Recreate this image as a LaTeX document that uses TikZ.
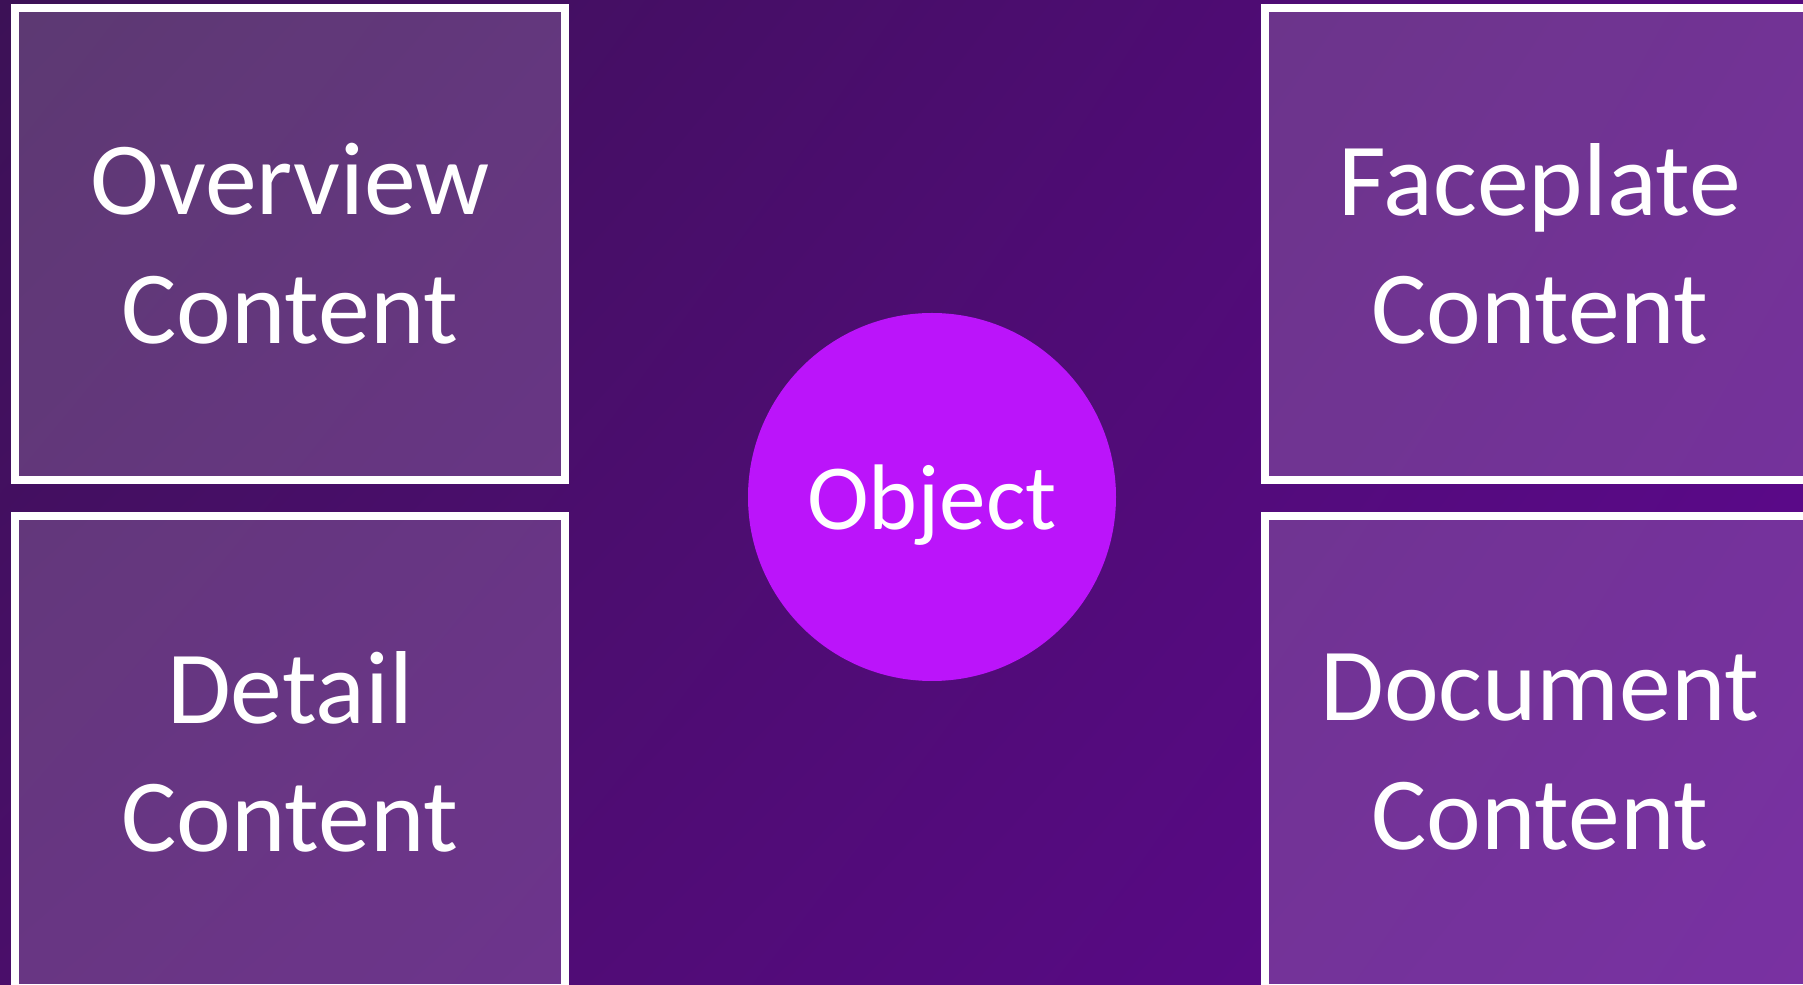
\documentclass[tikz,border=0pt]{standalone}
\usepackage{fontspec}
\setmainfont{Carlito}
\usetikzlibrary{positioning,shadings}
\definecolor{bgul}{RGB}{60,17,86}
\definecolor{bgur}{RGB}{86,10,128}
\definecolor{bgll}{RGB}{74,14,106}
\definecolor{bglr}{RGB}{94,8,144}
\definecolor{objviolet}{RGB}{187,20,250}

\begin{document}
\begin{tikzpicture}[node distance={2.8mm}, box/.style = {draw=white, line width=0.8mm, fill=white, fill opacity=0.17, text opacity=1, text=white, minimum width=55mm, minimum height=47.2mm, align=center, font=\fontsize{29.5}{36.6}\selectfont}, obj/.style = {circle, fill=objviolet, minimum size=36.8mm, text=white, text depth=0pt, font=\fontsize{26.5}{32}\selectfont}]
            \useasboundingbox (0,0) rectangle (18.03,-9.85);
            \clip (0,0) rectangle (18.03,-9.85);
            \shade[upper left=bgul, upper right=bgur, lower left=bgll, lower right=bglr] (0,0) rectangle (18.03,-9.85);

            \node[box] (ov) at (2.90,-2.44) {Overview\\Content};
            \node[box] (det) [below=of ov] {Detail\\Content};
            \node[box] (face) [right=69.2mm of ov] {Faceplate\\Content};
            \node[box] (doc) [below=of face] {Document\\Content};

            \node[obj] (obj) at (9.32,-4.97) {Object};
        \end{tikzpicture}
\end{document}
